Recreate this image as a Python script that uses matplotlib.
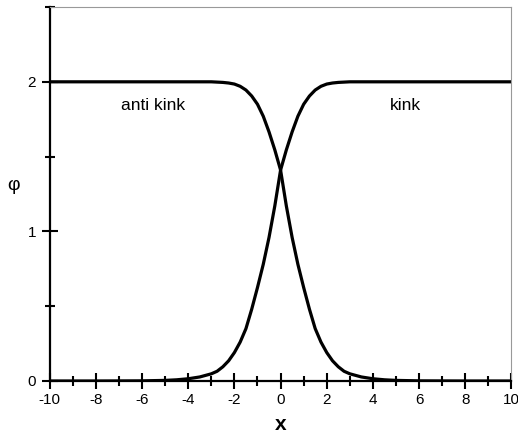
import matplotlib
matplotlib.use("Agg")
import matplotlib.pyplot as plt
from matplotlib.ticker import MultipleLocator

plt.rcParams['font.family'] = ['Liberation Sans', 'DejaVu Sans']
plt.rcParams['axes.unicode_minus'] = False

# valores
x_vals = [-10, -8, -7, -6, -5, -4.5, -4, -3.5, -3, -2.75, -2.5, -2.25, -2, -1.75,
          -1.5, -1.25, -1, -0.75, -0.5, -0.25, 0, 0.25, 0.5, 0.75, 1, 1.25, 1.5,
          1.75, 2, 2.25, 2.5, 2.75, 3, 3.5, 4, 4.5, 5, 6, 7, 8, 10]
kink = [0.0, 0.0, 0.0005, 0.001, 0.004, 0.008, 0.015, 0.027, 0.048, 0.065, 0.095,
        0.135, 0.19, 0.26, 0.35, 0.48, 0.625, 0.78, 0.96, 1.17, 1.41, 1.545, 1.665,
        1.77, 1.85, 1.905, 1.945, 1.97, 1.985, 1.992, 1.996, 1.998, 2.0, 2.0, 2.0,
        2.0, 2.0, 2.0, 2.0, 2.0, 2.0]
anti_kink = [2.0, 2.0, 2.0, 2.0, 2.0, 2.0, 2.0, 2.0, 2.0, 1.998, 1.996, 1.992,
             1.985, 1.97, 1.945, 1.905, 1.85, 1.77, 1.665, 1.545, 1.41, 1.17, 0.96,
             0.78, 0.625, 0.48, 0.35, 0.26, 0.19, 0.135, 0.095, 0.065, 0.048, 0.027,
             0.015, 0.008, 0.004, 0.001, 0.0005, 0.0, 0.0]

fig = plt.figure(figsize=(5.18, 4.33), dpi=100)
ax = fig.add_axes([0.0959, 0.1201, 0.8915, 0.8637])

ax.plot(x_vals, kink, color='black', linewidth=2.3, solid_joinstyle='round')
ax.plot(x_vals, anti_kink, color='black', linewidth=2.3, solid_joinstyle='round')

ax.set_xlim(-10, 10)
ax.set_ylim(0, 2.5)

ax.xaxis.set_major_locator(MultipleLocator(2))
ax.xaxis.set_minor_locator(MultipleLocator(1))
ax.yaxis.set_major_locator(MultipleLocator(1))
ax.yaxis.set_minor_locator(MultipleLocator(0.5))

ax.tick_params(which='major', direction='inout', length=11.5, width=1.5, labelsize=11)
ax.tick_params(which='minor', direction='inout', length=7, width=1.5)
ax.tick_params(axis='x', which='major', pad=3)
ax.tick_params(axis='y', which='major', pad=4)

for s in ['left', 'bottom']:
    ax.spines[s].set_linewidth(1.6)
    ax.spines[s].set_color('black')
for s in ['top', 'right']:
    ax.spines[s].set_linewidth(0.8)
    ax.spines[s].set_color('#999999')

ax.text(-5.53, 1.84, "anti kink", fontsize=12.5, ha='center', va='center')
ax.text(5.4, 1.84, "kink", fontsize=12.5, ha='center', va='center')

ax.set_xlabel("x", fontsize=15, fontweight='bold', labelpad=6)
ax.set_ylabel("φ", fontsize=14, rotation=0, labelpad=10)

fig.savefig("out.png", dpi=100)
